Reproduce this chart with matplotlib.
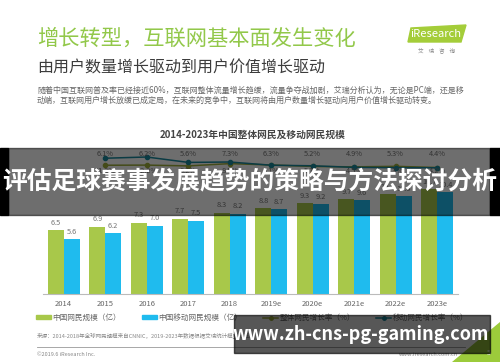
import matplotlib
matplotlib.use("Agg")
import matplotlib.pyplot as plt
from matplotlib.patches import Rectangle, Polygon, Patch
from matplotlib.lines import Line2D

plt.rcParams['font.family'] = ['Noto Sans CJK SC', 'DejaVu Sans']

# data
years = ['2014', '2015', '2016', '2017', '2018', '2019e', '2020e', '2021e', '2022e', '2023e']
netizens = [6.5, 6.9, 7.3, 7.7, 8.3, 8.8, 9.3, 9.7, 10.2, 10.7]
mobile_netizens = [5.6, 6.2, 7.0, 7.5, 8.2, 8.7, 9.2, 9.6, 10.0, 10.4]
rate_years = years[1:]
total_growth = [6.1, 6.2, 5.6, 7.3, 6.3, 5.2, 4.9, 5.3, 4.4]
mobile_growth = [11.3, 12.2, 8.2, 8.5, 6.1, 5.7, 4.5, 4.3, 4.2]

GREEN = '#a8c84a'
BLUE = '#1fbbee'
OLIVE = '#9fae3c'
TEAL = '#1a8a9e'
GRAY = '#777777'


def fx(px):
    return px / 500


def fy(py):
    return 1 - py / 362


fig = plt.figure(figsize=(5, 3.62), dpi=100)
fig.patch.set_facecolor('white')

# header
fig.text(fx(37), fy(39), '增长转型，互联网基本面发生变化', fontsize=15.3, color='#92c84a',
         ha='left', va='center')
fig.text(fx(37), fy(68), '由用户数量增长驱动到用户价值增长驱动', fontsize=11.5, color='#3c3c3c',
         ha='left', va='center')
fig.text(fx(37), fy(90), '随着中国互联网普及率已经接近60%，互联网整体流量增长趋缓，流量争夺战加剧，艾瑞分析认为，无论是PC端，还是移',
         fontsize=5.8, color='#666666', ha='left', va='center')
fig.text(fx(37), fy(100), '动端，互联网用户增长放缓已成定局，在未来的竞争中，互联网将由用户数量增长驱动向用户价值增长驱动转变。',
         fontsize=5.8, color='#666666', ha='left', va='center')

# iResearch logo
fig.patches.append(Polygon([(fx(411), fy(28)), (fx(466), fy(25)), (fx(461), fy(42)), (fx(408), fy(42))],
                           closed=True, transform=fig.transFigure, color='#a4cd39'))
fig.text(fx(436), fy(34), 'iResearch', fontsize=8, color='white', ha='center', va='center')
fig.text(fx(436), fy(50), '艾    瑞    咨    询', fontsize=4, color='#888888', ha='center', va='center')

fig.text(fx(253), fy(135), '2014-2023年中国整体网民及移动网民规模', fontsize=7, color='#444444',
         weight='bold', ha='center', va='center')

# bars
ax = fig.add_axes([fx(43), fy(294), 415 / 500, 154 / 362])
x = list(range(len(years)))
w = 0.385
b1 = ax.bar([i - w / 2 for i in x], netizens, w, color=GREEN)
b2 = ax.bar([i + w / 2 for i in x], mobile_netizens, w, color=BLUE)
for bars, vals in ((b1, netizens), (b2, mobile_netizens)):
    for rect, v in zip(bars, vals):
        ax.annotate(f'{v:.1f}', (rect.get_x() + rect.get_width() / 2, v), xytext=(0, 2.5),
                    textcoords='offset points', ha='center', va='bottom', fontsize=5.3, color=GRAY)
ax.set_xlim(-0.5, 9.5)
ax.set_ylim(0, 15.76)
ax.set_xticks(x)
ax.set_xticklabels(years, fontsize=5.5, color='#666666')
ax.tick_params(axis='x', length=0, pad=4.5)
ax.set_yticks([])
for s in ['top', 'left', 'right']:
    ax.spines[s].set_visible(False)
ax.spines['bottom'].set_color('#bbbbbb')
ax.spines['bottom'].set_linewidth(0.8)

# growth lines
ax2 = ax.twinx()
rx = [years.index(y) for y in rate_years]
ax2.plot(rx, total_growth, color=OLIVE, lw=1.1, marker='o', ms=3)
ax2.plot(rx, mobile_growth, color=TEAL, lw=1.1, marker='o', ms=3)
tr = ax2.get_xaxis_transform()
for xi, t, m in zip(rx, total_growth, mobile_growth):
    ax2.text(xi, 0.912, f'{t}%', transform=tr, fontsize=5.3, color=GRAY, ha='center', va='center')
    ax2.text(xi, 0.8, f'{m}%', transform=tr, fontsize=5.3, color=GRAY, ha='center', va='center')
ax2.set_ylim(-89.3, 24.8)
ax2.axis('off')

handles = [Patch(color=GREEN), Patch(color=BLUE),
           Line2D([], [], color=OLIVE, lw=1.1, marker='o', ms=2.5),
           Line2D([], [], color=TEAL, lw=1.1, marker='o', ms=2.5)]
labels = ['中国网民规模（亿）', '中国移动网民规模（亿）', '整体网民增长率（%）', '移动网民增长率（%）']
leg = fig.legend(handles, labels, ncol=4, loc='center', bbox_to_anchor=(fx(252), fy(318)),
                 frameon=False, fontsize=5.5, handlelength=1.9, handleheight=0.5,
                 handletextpad=0.2, columnspacing=2.8)
for t in leg.get_texts():
    t.set_color('#666666')

# footer
fig.text(fx(37), fy(336), '来源：2014-2018年全球网民规模来自CNNIC，2019-2023年数据根据艾瑞统计模型核算。',
         fontsize=4, color='#888888', ha='left', va='center')
fig.lines.append(Line2D([fx(37), fx(465)], [fy(347), fy(347)], transform=fig.transFigure,
                        color='#999999', lw=0.6))
fig.text(fx(37), fy(354), '©2019.6 iResearch Inc.', fontsize=4, color='#888888', ha='left', va='center')
fig.text(fx(458), fy(354), 'www.iresearch.com.cn', fontsize=4, color='#888888', ha='right', va='center')
fig.patches.append(Polygon([(fx(500), fy(322)), (fx(500), fy(362)), (fx(452), fy(362))],
                           closed=True, transform=fig.transFigure, color='#9ccb3b'))
fig.text(fx(489), fy(353), '5', fontsize=5, color='white', ha='center', va='center')

# overlay banners
fig.patches.append(Rectangle((fx(8), fy(215)), 482 / 500, 67 / 362, transform=fig.transFigure,
                             color='black', alpha=0.57, zorder=10))
fig.patches.append(Rectangle((0, fy(215)), fx(8), 67 / 362, transform=fig.transFigure,
                             color='black', zorder=10))
fig.patches.append(Rectangle((fx(490), fy(215)), fx(10), 67 / 362, transform=fig.transFigure,
                             color='black', zorder=10))
fig.text(fx(250), fy(181), '评估足球赛事发展趋势的策略与方法探讨分析', fontsize=17.8, weight='bold',
         color='white', ha='center', va='center', zorder=11)
fig.patches.append(Rectangle((fx(234), fy(353)), 256 / 500, 38 / 362, transform=fig.transFigure,
                             color='black', alpha=0.66, zorder=10))
fig.text(fx(361), fy(334), 'www.zh-cns-pg-gaming.com', fontsize=13, weight='bold',
         color='white', ha='center', va='center', zorder=11)

fig.savefig('out.png', dpi=100)
